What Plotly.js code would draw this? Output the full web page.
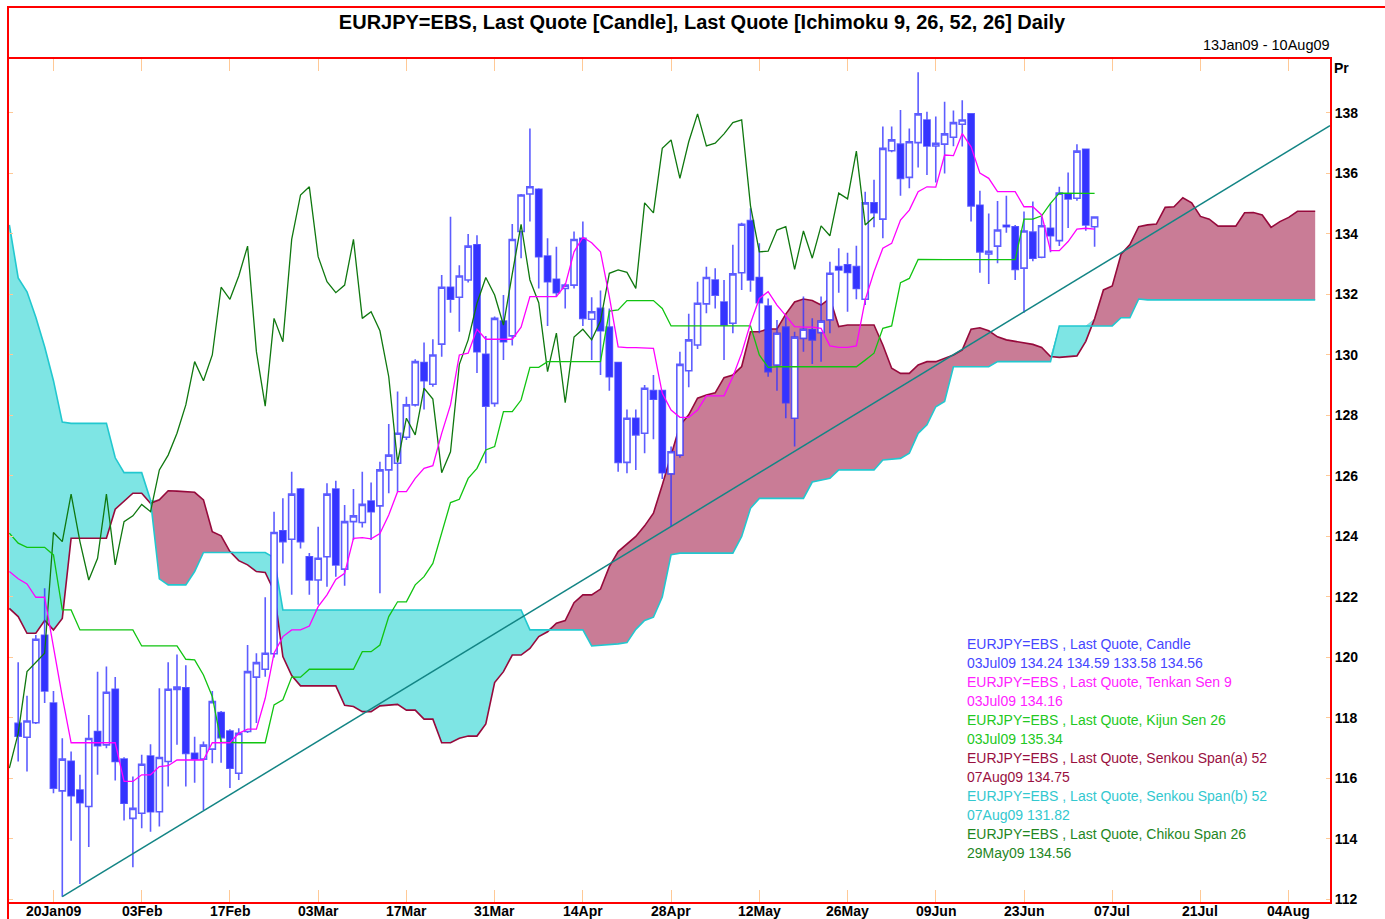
<!DOCTYPE html>
<html><head><meta charset="utf-8">
<script src="https://cdn.plot.ly/plotly-3.0.1.min.js"></script>
<style>html,body{margin:0;padding:0;background:#fff}#chart{width:1385px;height:919px}</style>
</head><body><div id="chart"></div>
<script>
// ---------- axis categories (trading days) ----------
const FIRST_DAY = '2009-01-13', LAST_DAY = '2009-08-07';
function tradingDays(s, e) {
  const out = []; let d = new Date(s + 'T00:00:00Z'); const end = new Date(e + 'T00:00:00Z');
  while (d <= end) { const w = d.getUTCDay(); if (w !== 0 && w !== 6) out.push(d.toISOString().slice(0, 10)); d = new Date(d.getTime() + 86400000); }
  return out;
}
const days = tradingDays(FIRST_DAY, LAST_DAY);          // 13Jan09 .. 07Aug09
const candleDays = days.slice(1, 124);                   // 14Jan09 .. 03Jul09
const tickDates = ['2009-01-20','2009-02-03','2009-02-17','2009-03-03','2009-03-17','2009-03-31','2009-04-14','2009-04-28','2009-05-12','2009-05-26','2009-06-09','2009-06-23','2009-07-07','2009-07-21','2009-08-04'];
const tickLabels = ['20Jan09','03Feb','17Feb','03Mar','17Mar','31Mar','14Apr','28Apr','12May','26May','09Jun','23Jun','07Jul','21Jul','04Aug'];
const yTicks = [112,114,116,118,120,122,124,126,128,130,132,134,136,138];

// ---------- candles 14Jan09 .. 03Jul09 ----------
const open = [117.82,117.36,117.84,120.73,118.49,115.59,116.57,115.62,115.07,117.55,117.11,118.95,116.64,114.68,114.85,116.74,114.90,116.56,118.94,119.00,
116.83,116.64,116.97,118.18,117.57,116.17,117.55,119.35,119.61,120.12,124.19,123.91,125.57,123.33,122.56,123.33,125.57,122.92,124.49,124.46,
125.17,125.01,126.20,126.42,127.28,128.35,129.75,129.03,130.36,132.24,131.91,132.48,133.64,130.02,128.40,131.12,130.63,134.08,135.32,135.48,
133.27,132.50,132.20,132.31,133.86,131.18,131.54,130.92,129.75,126.45,127.91,127.41,128.82,128.82,126.07,126.69,129.48,130.33,131.69,132.48,
131.75,131.05,132.72,134.44,132.56,131.62,129.67,130.92,127.91,130.55,130.83,130.74,131.16,132.92,132.98,132.92,131.84,135.03,134.49,136.75,
136.97,135.87,137.02,137.77,136.91,136.97,137.20,137.63,137.97,134.95,133.34,133.60,134.29,134.24,132.87,134.06,133.23,134.19,133.78,135.32,
135.18,136.80,134.24];
const high = [119.84,118.73,120.74,122.29,118.89,117.33,116.89,116.12,118.10,119.53,119.70,119.35,116.70,116.06,116.78,117.13,118.98,119.84,120.10,119.74,
117.38,117.22,118.89,118.23,117.63,117.66,120.41,120.14,121.99,124.82,125.26,126.14,125.60,123.45,124.32,125.76,125.84,125.04,125.57,126.14,
125.78,126.47,127.72,128.79,128.62,129.86,130.41,130.52,132.64,134.57,132.97,134.00,133.96,130.63,131.27,131.98,134.33,135.32,137.49,135.51,
133.86,133.58,132.37,134.08,134.41,131.91,132.13,131.54,129.78,128.20,128.20,129.01,129.34,128.85,126.97,130.11,131.36,132.42,132.92,132.87,
132.48,133.64,134.37,134.85,133.69,131.87,131.16,131.25,130.77,131.93,131.21,131.93,133.08,133.53,133.38,133.61,135.40,135.79,137.55,137.55,
138.10,137.49,139.35,138.04,137.88,138.37,138.08,138.42,137.99,135.43,134.68,135.09,135.26,134.30,134.74,135.07,134.57,135.00,135.56,136.03,
136.97,136.81,134.59];
const low = [116.56,116.23,117.80,118.49,115.51,112.09,113.94,112.51,113.73,116.12,117.00,115.93,114.61,113.06,114.35,114.24,114.41,115.73,117.11,115.73,
115.86,114.96,116.50,116.52,115.68,115.95,117.50,117.83,119.36,120.00,123.11,122.07,123.60,122.07,121.74,122.34,122.67,122.37,123.88,124.30,
123.88,122.12,125.43,125.48,127.19,128.30,128.20,128.95,129.94,131.40,130.77,132.40,129.40,126.42,128.29,129.83,130.31,133.20,134.41,132.20,
130.96,131.93,131.54,132.20,130.96,129.83,129.34,128.82,126.14,126.09,126.20,126.75,127.21,125.90,124.32,126.60,128.93,130.20,131.38,131.54,
129.83,130.72,132.15,132.09,130.72,129.28,128.82,127.91,126.97,130.11,129.70,129.78,130.72,132.06,131.43,131.84,131.65,134.22,133.86,136.70,
135.26,135.51,136.20,135.95,135.70,136.00,136.90,136.89,134.41,132.72,132.35,133.03,134.04,132.48,131.40,133.10,133.20,133.40,133.60,134.20,
135.10,134.11,133.58];
const close = [117.40,117.90,120.60,118.89,115.68,116.64,115.43,115.20,117.32,117.08,118.85,116.56,115.18,115.01,116.47,114.90,116.69,118.95,119.02,116.83,
116.64,117.10,118.54,117.35,116.34,117.49,119.53,119.83,120.14,124.13,123.83,125.40,123.83,122.56,123.28,125.40,123.06,124.49,124.68,125.06,
124.82,126.20,126.69,127.41,128.35,129.78,129.15,130.00,132.24,131.84,132.61,133.60,130.11,128.31,131.21,130.44,133.82,135.29,135.56,133.25,
132.42,132.06,132.31,133.82,131.21,131.43,130.80,129.28,126.45,127.91,127.36,128.90,128.54,126.11,126.80,129.69,130.50,131.71,132.56,131.98,
130.99,132.68,134.32,132.48,131.73,129.45,130.72,128.42,130.59,130.85,130.50,131.12,132.70,132.81,132.73,132.20,135.03,134.70,136.83,137.11,
135.84,137.05,137.97,136.91,137.00,137.31,137.68,137.77,134.93,133.41,133.43,134.13,134.24,132.83,134.10,133.20,134.27,133.94,135.35,135.16,
136.74,134.30,134.56];

// ---------- Ichimoku lines (from 13Jan09) ----------
const tenkan = [122.84,122.6,122.43,121.99,121.99,120.3,118.7,117.18,117.18,117.18,
117.18,117.18,117.18,115.9,115.9,116.12,116.12,116.39,116.42,116.61,
116.61,116.61,116.61,117.18,117.18,117.18,117.49,117.63,117.63,118.65,
120.14,120.69,120.91,120.91,121.04,121.68,122.07,122.58,122.78,123.94,
123.96,123.92,124.1,124.71,125.48,125.48,125.92,126.25,126.34,127.41,
128.35,130.0,130.06,130.85,130.52,130.52,130.52,130.52,130.92,131.93,
131.93,131.93,131.93,132.31,133.41,133.89,133.71,133.41,131.93,130.27,
130.24,130.24,130.24,130.22,128.73,128.18,127.94,127.94,128.18,128.65,
128.65,128.65,129.28,130.06,131.05,131.87,132.09,131.65,131.3,130.94,
130.92,130.92,130.88,130.3,130.25,130.25,130.3,131.82,132.75,133.53,
133.69,134.46,134.79,135.4,135.56,135.55,136.61,136.59,137.32,136.88,
136.01,135.84,135.4,135.4,135.4,134.9,134.9,134.63,133.45,133.45,
133.75,134.16,134.19,134.16];
const kijun = [124.11,123.78,123.64,123.64,123.64,123.39,121.57,121.57,120.91,120.91,
120.91,120.91,120.91,120.91,120.91,120.38,120.38,120.38,120.38,120.38,
119.94,119.92,119.42,118.71,117.2,117.18,117.18,117.18,117.18,117.18,
118.43,118.6,119.35,119.35,119.61,119.61,119.61,119.61,119.61,119.61,
120.19,120.19,120.41,121.35,121.84,121.84,122.4,122.67,123.11,124.16,
125.12,125.23,125.92,126.25,126.86,126.97,128.13,128.13,128.51,129.59,
129.59,129.78,129.78,129.78,129.78,129.78,129.78,129.78,131.45,131.49,
131.8,131.8,131.8,131.8,131.54,130.96,130.96,130.96,130.96,130.96,
130.96,130.96,130.96,130.96,130.96,130.0,129.59,129.61,129.61,129.61,
129.61,129.61,129.61,129.61,129.61,129.61,129.61,129.83,130.06,130.88,
130.96,132.39,132.53,133.16,133.15,133.15,133.15,133.15,133.15,133.15,
133.15,133.15,133.15,133.15,133.15,134.49,134.49,134.6,135.01,135.35,
135.35,135.35,135.35,135.34];
const senkouA = [121.62,121.35,120.8,120.8,121.22,120.91,121.29,123.94,123.94,123.94,
123.94,123.94,124.9,125.15,125.43,125.43,125.1,125.21,125.51,125.5,
125.48,125.46,125.21,124.16,124.02,123.5,123.2,123.06,122.84,122.81,
122.2,120.03,119.4,119.06,119.06,119.06,119.06,119.06,118.42,118.38,
118.21,118.21,118.4,118.43,118.45,118.26,118.26,117.96,117.96,117.18,
117.18,117.33,117.4,117.4,117.8,119.17,119.53,120.08,120.08,120.3,
120.69,120.85,121.13,121.22,121.81,122.07,122.07,122.26,123.0,123.5,
123.75,124.0,124.35,124.77,125.7,126.7,127.67,128.02,128.57,128.68,
128.75,129.25,129.34,129.62,130.77,130.77,130.86,130.86,131.35,131.75,
131.85,131.8,131.65,131.87,130.94,130.99,130.99,130.99,130.99,130.33,
129.56,129.39,129.39,129.67,129.78,129.78,129.89,130.0,130.17,130.85,
130.9,130.8,130.6,130.5,130.45,130.4,130.35,130.25,129.95,129.92,
129.95,129.97,130.45,131.2,132.15,132.28,133.33,133.65,134.24,134.3,
134.33,134.88,134.9,135.2,135.03,134.58,134.49,134.26,134.26,134.26,
134.7,134.71,134.63,134.22,134.41,134.55,134.75,134.76,134.75];
const senkouB = [134.3,132.55,132.09,131.25,130.27,129.15,127.78,127.74,127.74,127.74,
127.74,127.74,126.6,126.11,126.11,126.11,125.2,122.6,122.4,122.4,
122.4,122.84,123.47,123.47,123.47,123.47,123.47,123.47,123.47,123.47,
123.3,121.57,121.57,121.57,121.57,121.57,121.57,121.57,121.57,121.57,
121.57,121.57,121.57,121.57,121.57,121.57,121.57,121.57,121.57,121.57,
121.57,121.57,121.57,121.57,121.57,121.57,121.57,121.57,121.57,120.91,
120.91,120.91,120.91,120.91,120.91,120.91,120.38,120.4,120.41,120.45,
120.49,120.93,121.22,121.33,122.0,123.4,123.45,123.45,123.45,123.45,
123.45,123.45,123.45,124.0,124.93,125.26,125.26,125.26,125.26,125.26,
125.26,125.8,125.85,125.92,126.2,126.2,126.2,126.2,126.2,126.53,
126.55,126.58,126.75,127.41,127.69,128.29,128.46,129.61,129.61,129.61,
129.61,129.61,129.78,129.78,129.78,129.78,129.78,129.78,129.78,130.96,
130.96,130.96,130.96,130.96,130.96,130.96,131.23,131.23,131.85,131.82,
131.82,131.82,131.82,131.82,131.82,131.82,131.82,131.82,131.82,131.82,
131.82,131.82,131.82,131.82,131.82,131.82,131.82,131.82,131.82];
const CHIKOU_SHIFT = 25;
const trendStartDay = '2009-01-21', trendStartPrice = 112.09;
const trendEndPos = 149.68, trendEndPrice = 137.58;      // right edge of the plot (10Aug09 afternoon)

// ---------- positions on the trading-day axis ----------
const pos = d => days.indexOf(d);
const dayPos = days.map((d, i) => i);
const candlePos = candleDays.map(pos);
const tickPos = tickDates.map(pos);

// ---------- styling ----------
const W = 1385, H = 919, L = 9, R = 1330, T = 59, B = 902;
const px = x => (x - L) / (R - L), py = y => (B - y) / (B - T);
const FONT = 'Liberation Sans, Arial, sans-serif';
const C = { candle:'#3434ff', wick:'rgba(52,52,255,0.8)', tenkan:'#ff00ff', kijun:'#11c411', spanA:'#960a3c', spanB:'#22c8cf',
  chikou:'#0f780f', fillA:'rgb(201,124,150)', fillB:'rgb(126,229,228)', trend:'#138585', tick:'#ffc996' };
const xRange = [-0.04, trendEndPos];
const yRange = [111.915, 139.785];

const cloudTop = senkouA.map((a, i) => Math.max(a, senkouB[i]));
const chikouY = close.slice(CHIKOU_SHIFT - 1);
const chikouX = dayPos.slice(0, chikouY.length);
const lineX = dayPos.slice(0, tenkan.length);

const traces = [
  { x: dayPos, y: senkouB, xaxis:'x', yaxis:'y', mode:'lines', line:{width:0, color:C.spanB}, hoverinfo:'skip' },
  { x: dayPos, y: cloudTop, xaxis:'x', yaxis:'y', mode:'lines', line:{width:0}, fill:'tonexty', fillcolor:C.fillA, hoverinfo:'skip' },
  { x: dayPos, y: senkouA, xaxis:'x', yaxis:'y', mode:'lines', line:{width:0, color:C.spanA}, hoverinfo:'skip' },
  { x: dayPos, y: cloudTop, xaxis:'x', yaxis:'y', mode:'lines', line:{width:0}, fill:'tonexty', fillcolor:C.fillB, hoverinfo:'skip' },
  { x: dayPos, y: senkouA, xaxis:'x', yaxis:'y', mode:'lines', line:{width:1.6, color:C.spanA} },
  { x: dayPos, y: senkouB, xaxis:'x', yaxis:'y', mode:'lines', line:{width:1.6, color:C.spanB} },
  { type:'candlestick', x: candlePos, open, high, low, close, xaxis:'x2', yaxis:'y2', whiskerwidth:0,
    increasing:{ line:{color:C.wick, width:1.6}, fillcolor:'#ffffff' },
    decreasing:{ line:{color:C.wick, width:1.6}, fillcolor:C.candle } },
  { x: chikouX, y: chikouY, xaxis:'x2', yaxis:'y2', mode:'lines', line:{width:1.3, color:C.chikou} },
  { x: lineX, y: kijun, xaxis:'x2', yaxis:'y2', mode:'lines', line:{width:1.3, color:C.kijun} },
  { x: lineX, y: tenkan, xaxis:'x2', yaxis:'y2', mode:'lines', line:{width:1.3, color:C.tenkan} },
  { x: [pos(trendStartDay), trendEndPos], y: [trendStartPrice, trendEndPrice], xaxis:'x2', yaxis:'y2', mode:'lines', line:{width:1.5, color:C.trend} }
];

const last = close.length - 1;
const legendRows = [
  ['EURJPY=EBS , Last Quote, Candle', '#4646ff'],
  ['03Jul09 ' + [open[last], high[last], low[last], close[last]].map(v => v.toFixed(2)).join(' '), '#4646ff'],
  ['EURJPY=EBS , Last Quote, Tenkan Sen 9', '#ff22ff'],
  ['03Jul09 ' + tenkan[tenkan.length - 1].toFixed(2), '#ff22ff'],
  ['EURJPY=EBS , Last Quote, Kijun Sen 26', '#22c822'],
  ['03Jul09 ' + kijun[kijun.length - 1].toFixed(2), '#22c822'],
  ['EURJPY=EBS , Last Quote, Senkou Span(a) 52', '#99103f'],
  ['07Aug09 ' + senkouA[senkouA.length - 1].toFixed(2), '#99103f'],
  ['EURJPY=EBS , Last Quote, Senkou Span(b) 52', '#33c8cf'],
  ['07Aug09 ' + senkouB[senkouB.length - 1].toFixed(2), '#33c8cf'],
  ['EURJPY=EBS , Last Quote, Chikou Span 26', '#1f861f'],
  ['29May09 ' + close[last].toFixed(2), '#1f861f']
];
const annotations = legendRows.map((r, i) => ({
  xref:'paper', yref:'paper', x: px(965), y: py(644 + 19 * i), xanchor:'left', yanchor:'middle',
  text: r[0], showarrow:false, font:{family:FONT, size:14, color:r[1]}
}));
annotations.push({ xref:'paper', yref:'paper', x: px(1332), y: py(45), xanchor:'right', yanchor:'middle',
  text:'13Jan09 - 10Aug09', showarrow:false, font:{family:FONT, size:14.5, color:'#000'} });
annotations.push({ xref:'paper', yref:'paper', x: px(1332), y: py(68), xanchor:'left', yanchor:'middle',
  text:'<b>Pr</b>', showarrow:false, font:{family:FONT, size:14, color:'#000'} });
tickPos.forEach((p, i) => annotations.push({ xref:'x', yref:'paper', x: p, y: py(911), xanchor:'center', yanchor:'middle',
  text:'<b>' + tickLabels[i] + '</b>', showarrow:false, font:{family:FONT, size:14, color:'#000'} }));

const layout = {
  width: W, height: H, margin:{l:L, r:W - R, t:T, b:H - B, pad:0},
  paper_bgcolor:'#fff', plot_bgcolor:'#fff', showlegend:false, hovermode:false,
  title:{ text:'<b>EURJPY=EBS, Last Quote [Candle], Last Quote [Ichimoku 9, 26, 52, 26] Daily</b>',
    xref:'container', yref:'container', x: 702 / W, y: 1 - 22 / H, xanchor:'center', yanchor:'middle',
    font:{family:FONT, size:20, color:'#000'} },
  boxgap: 0.3, boxgroupgap: 0,
  xaxis:{ type:'linear', range:xRange, tickvals:tickPos, ticktext:tickLabels, showticklabels:false,
    ticks:'inside', ticklen:12, tickwidth:1, tickcolor:C.tick, showgrid:false, zeroline:false,
    showline:true, linecolor:'#ff0000', linewidth:2, mirror:'ticks',
    rangeslider:{visible:false}, fixedrange:true },
  yaxis:{ range:yRange, side:'right', tickvals:yTicks, ticktext:yTicks.map(String),
    ticks:'inside', ticklen:4, tickwidth:1, tickcolor:C.tick, showgrid:false, zeroline:false,
    showline:true, linecolor:'#ff0000', linewidth:2, mirror:'ticks',
    tickfont:{family:FONT, size:14, color:'#000', weight:'bold'}, fixedrange:true },
  xaxis2:{ type:'linear', overlaying:'x', anchor:'y2', range:xRange, visible:false,
    rangeslider:{visible:false}, fixedrange:true },
  yaxis2:{ overlaying:'y', anchor:'x2', side:'right', range:yRange, visible:false, fixedrange:true },
  shapes:[{ type:'rect', xref:'paper', yref:'paper', x0:px(8), x1:px(1400), y0:py(940), y1:py(7),
    line:{color:'#ff0000', width:2}, fillcolor:'rgba(0,0,0,0)', layer:'above' }],
  annotations
};
Plotly.newPlot('chart', traces, layout, {displayModeBar:false, staticPlot:true});
</script></body></html>
